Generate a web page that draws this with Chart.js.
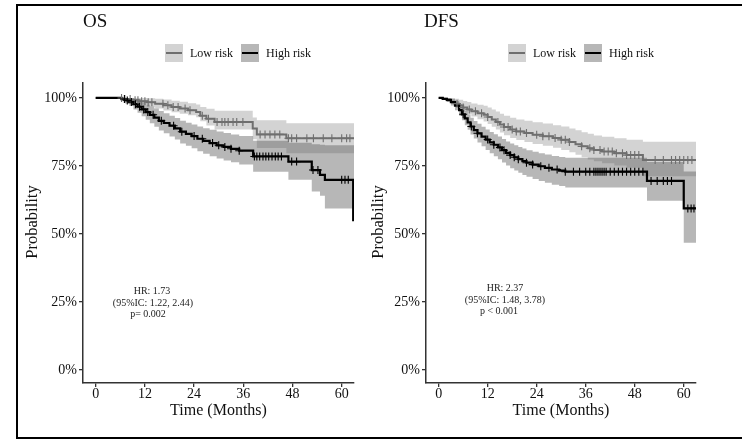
<!DOCTYPE html>
<html><head><meta charset="utf-8">
<script src="https://cdn.jsdelivr.net/npm/chart.js@4/dist/chart.umd.min.js"></script>
<style>
html,body{margin:0;padding:0;background:#fff;width:742px;height:439px;overflow:hidden;position:relative}
#frame{position:absolute;left:16px;top:4px;width:800px;height:435px;box-sizing:border-box;border:2px solid #000;border-right:none}
canvas{position:absolute;top:0}
#c1{left:0}#c2{left:371px}
</style></head><body>
<div id="frame"></div>
<canvas id="c1" width="371" height="439"></canvas>
<canvas id="c2" width="371" height="439"></canvas>
<script>
// ---------- data ----------
const xTicks = [0, 12, 24, 36, 48, 60];
const yTicks = [0, 0.25, 0.5, 0.75, 1];
const groups = ['Low risk', 'High risk'];

// OS - Low risk
const osLowT = [0, 6.5, 8.5, 10.5, 12.5, 14.5, 16.5, 18.5, 20.5, 22.5, 24.5, 25.5, 27, 29, 38.3, 39.3, 46.5, 63];
const osLowS = [1, .996, .992, .988, .984, .979, .973, .967, .961, .955, .948, .935, .924, .912, .888, .866, .852, .852];
const osLowU = [1, 1, 1, 1, .999, .997, .994, .99, .986, .981, .976, .967, .96, .953, .928, .918, .907, .907];
const osLowL = [1, .988, .982, .975, .968, .961, .954, .947, .942, .936, .929, .914, .899, .884, .848, .816, .797, .797];
const osLowCens = [6.3, 7.1, 8.4, 9.6, 10.3, 11.2, 12, 12.8, 13.7, 16.4, 17.6, 18.9, 20.1, 21.8, 23, 26, 27.5, 29.6, 30.8, 31.5, 32.3, 33.5, 34.4, 35.9, 40.1, 41.3, 42.5, 43.7, 44.9, 47, 47.8, 49, 51.5, 53.1, 55.5, 57.6, 60, 61.2, 62];

// OS - High risk
const osHighT = [0, 6.3, 7.2, 8.2, 9.2, 10.2, 11.2, 12.2, 13.2, 14.3, 15.4, 16.6, 18, 19.3, 20.6, 22, 23.4, 24.8, 26.2, 27.8, 29.5, 31.2, 33, 35, 38.4, 47, 52.7, 54.7, 55.9, 62.8, 63];
const osHighS = [1, .996, .991, .985, .977, .968, .958, .948, .938, .928, .916, .908, .898, .888, .876, .868, .86, .85, .842, .834, .826, .82, .813, .806, .785, .766, .735, .717, .699, .551, .551];
const osHighU = [1, 1, 1, .998, .994, .989, .983, .976, .969, .961, .952, .944, .935, .926, .916, .909, .902, .895, .889, .883, .877, .871, .866, .86, .843, .835, .83, .828, .826, .826, .826];
const osHighL = [1, .99, .98, .97, .958, .946, .933, .92, .907, .894, .88, .87, .858, .847, .833, .824, .815, .804, .795, .786, .777, .77, .764, .755, .729, .699, .656, .64, .594, .594, .594];
const osHighCens = [7, 7.7, 8.7, 9.7, 10.7, 11.7, 12.7, 14, 16, 19, 21, 24, 26, 28.5, 30, 31.5, 33, 35, 38.7, 39.3, 40, 40.8, 41.5, 42.2, 43, 43.8, 44.5, 45.3, 47.8, 49, 53, 54.2, 60, 60.8, 61.6];

// DFS - Low risk
const dfsLowT = [0, 1, 2, 3, 4, 5, 6, 7, 8, 9.5, 11, 12, 13, 14, 15, 16, 17.5, 19, 21, 23, 25.5, 28, 30, 32, 33.5, 35, 36.5, 38, 40, 43, 46, 50, 63];
const dfsLowS = [1, .997, .992, .986, .979, .972, .965, .958, .951, .944, .938, .93, .921, .912, .902, .893, .884, .877, .871, .865, .859, .853, .846, .838, .83, .822, .815, .809, .803, .797, .79, .772, .772];
const dfsLowU = [1, 1, 1, .999, .997, .993, .989, .985, .98, .975, .971, .965, .958, .95, .942, .935, .927, .921, .916, .911, .906, .9, .895, .888, .881, .874, .868, .862, .857, .852, .846, .839, .839];
const dfsLowL = [1, .995, .987, .978, .968, .959, .95, .941, .932, .922, .913, .904, .894, .884, .873, .863, .853, .845, .838, .831, .824, .817, .809, .8, .791, .782, .774, .767, .76, .752, .743, .712, .712];
const dfsLowCens = [4.5, 6, 7.5, 9, 10.5, 12, 14.5, 16, 17, 18, 19, 20, 21.5, 24, 25.5, 27, 28.5, 30, 31, 32, 35, 37, 38, 39.5, 40.5, 41.5, 42.5, 43.5, 45, 46, 47, 48, 49, 53, 55, 57, 58, 59, 60, 61, 62];

// DFS - High risk
const dfsHighT = [0, 1, 2, 3, 4, 5, 5.7, 6.4, 7.1, 7.8, 8.6, 9.5, 10.5, 11.5, 12.5, 13.5, 14.5, 15.5, 16.5, 17.5, 18.5, 19.5, 20.5, 21.5, 23, 24.5, 26, 27.7, 29.5, 31, 51, 60, 63];
const dfsHighS = [1, .997, .993, .985, .972, .955, .94, .925, .91, .895, .882, .87, .858, .847, .837, .828, .818, .808, .798, .79, .782, .775, .768, .762, .755, .749, .743, .737, .733, .729, .695, .594, .594];
const dfsHighU = [1, 1, 1, .997, .99, .978, .966, .953, .94, .927, .915, .905, .894, .884, .875, .867, .858, .849, .84, .833, .826, .82, .814, .808, .802, .797, .792, .787, .783, .78, .765, .73, .73];
const dfsHighL = [1, .993, .985, .972, .955, .935, .918, .9, .883, .866, .851, .836, .822, .809, .797, .786, .775, .763, .752, .742, .733, .725, .717, .71, .702, .695, .688, .681, .676, .671, .622, .468, .468];
const dfsHighCens = [6, 8, 9.5, 12, 13.5, 15, 16, 17.5, 18.5, 19.5, 21.5, 23, 25, 27, 29, 31, 33, 34.5, 36, 37, 38, 38.5, 39, 39.5, 40, 40.5, 41, 42, 43, 44, 45, 46, 47, 48, 49, 50, 52, 53.5, 55, 56, 57, 61, 61.8, 62.5];

const osStats = ['HR: 1.73', '(95%IC: 1.22, 2.44)', 'p= 0.002'];
const dfsStats = ['HR: 2.37', '(95%IC: 1.48, 3.78)', 'p < 0.001'];

// ---------- styles ----------
const SERIF = '"Liberation Serif", "Times New Roman", serif';
const LOW_LINE = '#6f6f6f', HIGH_LINE = '#000000';
const LOW_BAND = 'rgba(128,128,128,0.35)', HIGH_BAND = 'rgba(96,96,96,0.45)';

function survAt(T, S, t) {
  let v = S[0];
  for (let i = 0; i < T.length; i++) { if (T[i] <= t) v = S[i]; }
  return v;
}
const pts = (T, V) => T.map((t, i) => ({x: t, y: V[i]}));

function buildDatasets(low, high) {
  return [
    {data: pts(low.T, low.U), stepped: true, borderWidth: 0, borderColor: 'rgba(0,0,0,0)', pointRadius: 0, backgroundColor: LOW_BAND, fill: '+1', order: 10},
    {data: pts(low.T, low.L), stepped: true, borderWidth: 0, borderColor: 'rgba(0,0,0,0)', pointRadius: 0, fill: false, order: 10},
    {data: pts(high.T, high.U), stepped: true, borderWidth: 0, borderColor: 'rgba(0,0,0,0)', pointRadius: 0, backgroundColor: HIGH_BAND, fill: '+1', order: 9},
    {data: pts(high.T, high.L), stepped: true, borderWidth: 0, borderColor: 'rgba(0,0,0,0)', pointRadius: 0, fill: false, order: 9},
    {label: groups[0], data: pts(low.T, low.S), stepped: true, borderColor: LOW_LINE, borderWidth: 2, pointRadius: 0, fill: false, order: 4},
    {label: groups[1], data: pts(high.T, high.S), stepped: true, borderColor: HIGH_LINE, borderWidth: 2.2, pointRadius: 0, fill: false, order: 3},
    {data: low.C.map(t => ({x: t, y: survAt(low.T, low.S, t)})), showLine: false, pointStyle: 'cross', pointRadius: 4, pointBorderWidth: 1.1, pointBorderColor: LOW_LINE, borderColor: LOW_LINE, order: 2},
    {data: high.C.map(t => ({x: t, y: survAt(high.T, high.S, t)})), showLine: false, pointStyle: 'cross', pointRadius: 4, pointBorderWidth: 1.1, pointBorderColor: HIGH_LINE, borderColor: HIGH_LINE, order: 1}
  ];
}

const textPlugin = {
  id: 'panelText',
  afterDraw(chart, args, o) {
    const ctx = chart.ctx;
    ctx.save();
    ctx.fillStyle = '#111';
    ctx.font = '19px ' + SERIF; ctx.textAlign = 'left'; ctx.textBaseline = 'alphabetic';
    ctx.fillText(o.title, o.titleX, 27);
    ctx.save(); ctx.translate(o.yTitleX, 222); ctx.rotate(-Math.PI / 2);
    ctx.font = '16.5px ' + SERIF; ctx.textAlign = 'center'; ctx.textBaseline = 'middle';
    ctx.fillText('Probability', 0, 0); ctx.restore();
    ctx.font = '12px ' + SERIF; ctx.textBaseline = 'middle'; ctx.textAlign = 'left';
    let x = o.legendX; const yc = 53, bs = 18;
    const items = [[LOW_BAND, LOW_LINE], [HIGH_BAND, HIGH_LINE]];
    items.forEach((it, i) => {
      ctx.fillStyle = it[0]; ctx.fillRect(x, yc - bs / 2, bs, bs);
      ctx.strokeStyle = it[1]; ctx.lineWidth = 2;
      ctx.beginPath(); ctx.moveTo(x + 1, yc); ctx.lineTo(x + bs - 1, yc); ctx.stroke();
      ctx.fillStyle = '#111';
      ctx.fillText(groups[i], x + bs + 7, yc + 0.5);
      x = x + bs + 7 + ctx.measureText(groups[i]).width + 8;
    });
    ctx.font = '10px ' + SERIF; ctx.textAlign = 'center'; ctx.textBaseline = 'middle'; ctx.fillStyle = '#222';
    o.stats.forEach((s, i) => ctx.fillText(s, o.statX[i], o.statY[i]));
    ctx.restore();
  }
};

function makeChart(id, datasets, yWidth, rightPad, textOpts) {
  const tickFont = {family: SERIF, size: 14, lineHeight: 1};
  const gridOpt = {display: true, drawOnChartArea: false, drawTicks: true, tickLength: 4, color: '#333', lineWidth: 1.3};
  return new Chart(document.getElementById(id), {
    type: 'line',
    data: {datasets},
    plugins: [textPlugin],
    options: {
      responsive: false, animation: false, devicePixelRatio: 1, events: [],
      layout: {padding: {left: 0, top: 83, right: rightPad, bottom: 0}},
      plugins: {legend: {display: false}, tooltip: {enabled: false}, title: {display: false}, panelText: textOpts},
      scales: {
        x: {
          type: 'linear', min: -3.1, max: 63,
          afterBuildTicks: s => { s.ticks = xTicks.map(v => ({value: v})); },
          afterFit: s => { s.height = 56; },
          grid: gridOpt, border: {display: true, color: '#333', width: 1.5},
          ticks: {font: tickFont, color: '#111', padding: 0, maxRotation: 0, autoSkip: false},
          title: {display: true, text: 'Time (Months)', font: {family: SERIF, size: 16, lineHeight: 1.2}, color: '#111', padding: {top: 0, bottom: 19}}
        },
        y: {
          type: 'linear', min: -0.048, max: 1.055,
          afterBuildTicks: s => { s.ticks = yTicks.map(v => ({value: v})); },
          afterFit: s => { s.width = yWidth; },
          grid: gridOpt, border: {display: true, color: '#333', width: 1.5},
          ticks: {font: tickFont, color: '#111', padding: 2, callback: v => Math.round(v * 100) + '%'}
        }
      }
    }
  });
}

makeChart('c1',
  buildDatasets({T: osLowT, S: osLowS, U: osLowU, L: osLowL, C: osLowCens},
                {T: osHighT, S: osHighS, U: osHighU, L: osHighL, C: osHighCens}),
  83, 17,
  {title: 'OS', titleX: 83, yTitleX: 33, legendX: 165, stats: osStats, statX: [152, 153, 148], statY: [291.5, 303.5, 314.5]});

makeChart('c2',
  buildDatasets({T: dfsLowT, S: dfsLowS, U: dfsLowU, L: dfsLowL, C: dfsLowCens},
                {T: dfsHighT, S: dfsHighS, U: dfsHighU, L: dfsHighL, C: dfsHighCens}),
  55, 46,
  {title: 'DFS', titleX: 53, yTitleX: 8, legendX: 137, stats: dfsStats, statX: [134, 134, 128], statY: [288.5, 300.5, 311.5]});
</script>
</body></html>
